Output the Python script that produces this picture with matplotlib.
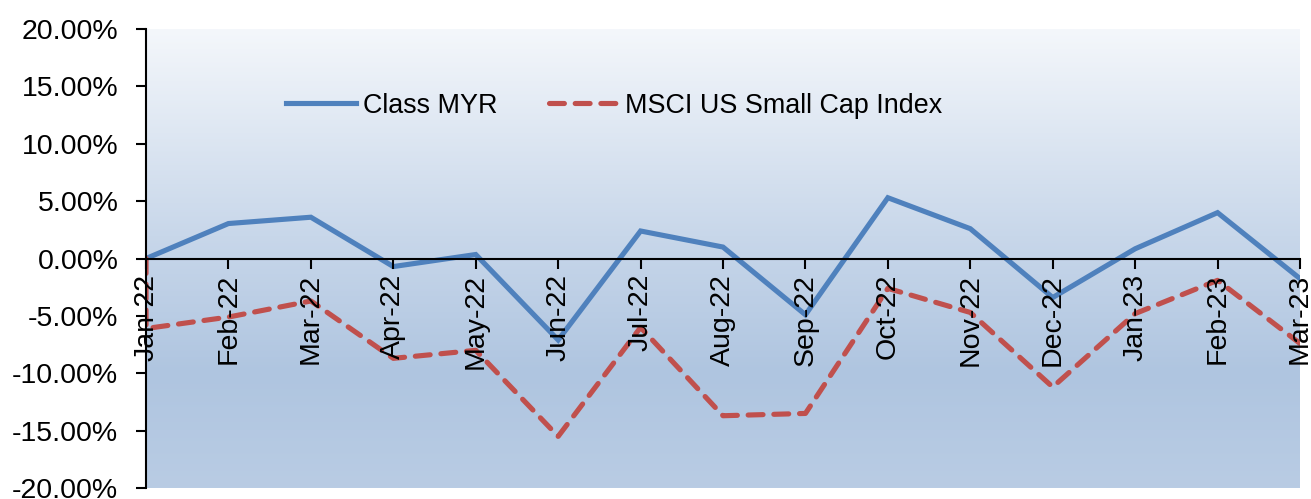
import numpy as np
import matplotlib
matplotlib.use("Agg")
import matplotlib.pyplot as plt
from matplotlib.colors import LinearSegmentedColormap

plt.rcParams["font.family"] = ["Liberation Sans", "DejaVu Sans"]
plt.rcParams["font.size"] = 20.5

months = ["Jan-22", "Feb-22", "Mar-22", "Apr-22", "May-22", "Jun-22", "Jul-22", "Aug-22",
          "Sep-22", "Oct-22", "Nov-22", "Dec-22", "Jan-23", "Feb-23", "Mar-23"]
class_myr = [0.0, 3.05, 3.6, -0.7, 0.35, -7.1, 2.4, 1.0, -4.9, 5.3, 2.6, -3.4, 0.85, 4.0, -1.75]
# index series starts from the 0% base at launch, then month-end values
msci_start = 0.0
msci_small_cap = [-6.1, -5.1, -3.7, -8.7, -8.0, -15.5, -6.0, -13.7, -13.5, -2.6, -4.7, -11.2,
                  -4.8, -1.9, -7.4]
y_ticks = [20, 15, 10, 5, 0, -5, -10, -15, -20]

BLUE = "#4F81BD"
RED = "#C0504D"

fig = plt.figure(figsize=(13.11, 4.99), dpi=100)
ax = fig.add_axes([0.1114, 0.022, 0.8802, 0.9198])

# plot-area gradient fill
grad = LinearSegmentedColormap.from_list(
    "area", [(0.0, "#b9cce4"), (0.25, "#afc5e0"), (0.55, "#c8d7ea"), (1.0, "#f4f7fb")])
ax.imshow(np.linspace(0, 1, 256).reshape(-1, 1), cmap=grad, aspect="auto", origin="lower",
          extent=[0, 1, 0, 1], transform=ax.transAxes, zorder=0)

x = np.arange(len(months))
ax.plot(x, class_myr, color=BLUE, lw=3.7, solid_joinstyle="miter", zorder=2,
        label="Class MYR")
ax.plot(np.r_[x[0], x], [msci_start] + msci_small_cap, color=RED, lw=3.7,
        dashes=(2.9, 2.1), dash_capstyle="round", zorder=2, label="MSCI US Small Cap Index")

for s in ("top", "right"):
    ax.spines[s].set_visible(False)
ax.spines["bottom"].set_position(("data", 0))
ax.spines["bottom"].set_linewidth(1.5)
ax.spines["left"].set_linewidth(1.5)
ax.set_axisbelow(False)

ax.set_xlim(x[0], x[-1])
ax.set_ylim(-20, 20)
ax.set_yticks(y_ticks)
ax.set_yticklabels([f"{v:.2f}%" for v in y_ticks])
ax.set_xticks(x)
ax.set_xticklabels(months, rotation=90, va="top", ha="center")
ax.tick_params(axis="y", direction="out", length=7, width=1.5, pad=13)
ax.tick_params(axis="x", direction="out", length=7, width=1.5, pad=4)

ax.legend(loc="upper left", bbox_to_anchor=(0.112, 0.885), ncol=2, frameon=False,
          fontsize=19.4, handlelength=2.6, handletextpad=0.25, columnspacing=1.9,
          borderaxespad=0)

fig.savefig("out.png", dpi=100)
